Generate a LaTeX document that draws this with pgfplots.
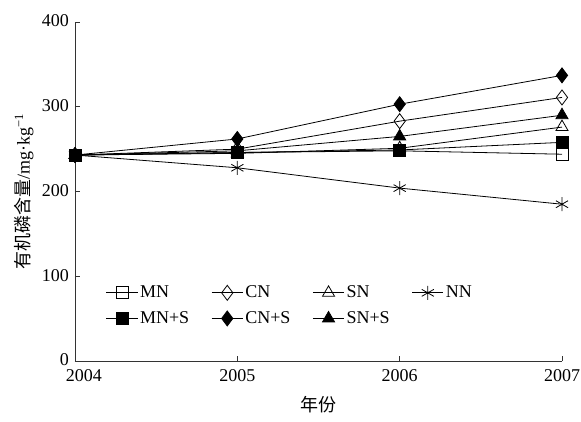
\documentclass[border=0pt]{standalone}
\usepackage{pgfplots}
\pgfplotsset{compat=1.18}
\usepackage{fontspec}
\setmainfont{Liberation Serif}
\newfontfamily\cjk{Noto Sans CJK SC}
\begin{document}
\fontsize{18}{20}\selectfont
\begin{tikzpicture}
\useasboundingbox (-75pt,-60pt) rectangle (506pt,361pt);
\begin{axis}[
  at={(0,0)}, anchor=south west, scale only axis,
  width=487pt, height=339pt,
  xmin=2004, xmax=2007, ymin=0, ymax=400,
  axis x line=bottom, axis y line=left,
  axis line style={-, line width=0.7pt, black!80},
  xtick={2004,2005,2006,2007}, ytick={0,100,200,300,400},
  xticklabels={\hspace*{18pt}2004,2005,2006,2007},
  tick align=inside, major tick length=5pt,
  tick style={line width=0.7pt, black!80},
  x tick label style={yshift=-2pt},
  y tick label style={yshift=1pt},
  /pgf/number format/assume math mode=true,
  tick label style={font=\fontsize{18}{20}\selectfont},
  xlabel={\cjk 年份},
  xlabel style={at={(axis description cs:0.5,-0.13)}, anchor=center, font=\fontsize{18}{20}\selectfont},
  ylabel={{\cjk 有机磷含量}/mg·kg\textsuperscript{−1}},
  ylabel style={at={(axis description cs:-0.105,0.5)}, anchor=center, font=\fontsize{18}{20}\selectfont},
  every axis plot/.append style={black, line width=0.8pt, mark options={solid, line width=0.8pt}},
  legend columns=4, legend cell align=left,
  legend style={draw=none, fill=none, at={(axis description cs:0.057,0.235)}, anchor=north west,
    font=\fontsize{18}{20}\selectfont, row sep=7pt,
    /tikz/every even column/.append style={column sep=20pt}},
  legend image code/.code={\draw[mark repeat=2, mark phase=2] plot coordinates {(0cm,0cm) (0.55cm,0cm) (1.1cm,0cm)};},
  clip=false,
]
\addplot[mark=square, mark size=6pt, mark options={fill=white}] coordinates {(2004,243) (2005,246) (2006,248) (2007,244)};
\addlegendentry{MN}
\addplot[mark=diamond, mark options={fill=white}, mark size=7.5pt] coordinates {(2004,243) (2005,250) (2006,283) (2007,311)};
\addlegendentry{CN}
\addplot[mark=triangle, mark options={fill=white}, mark size=7pt] coordinates {(2004,243) (2005,245) (2006,251) (2007,276)};
\addlegendentry{SN}
\addplot[mark=asterisk, mark size=7pt] coordinates {(2004,243) (2005,228) (2006,204) (2007,185)};
\addlegendentry{NN}
\addplot[mark=square*, mark size=6pt] coordinates {(2004,243) (2005,246) (2006,249) (2007,258)};
\addlegendentry{MN+S}
\addplot[mark=diamond*, mark size=7.5pt] coordinates {(2004,243) (2005,262) (2006,303) (2007,337)};
\addlegendentry{CN+S}
\addplot[mark=triangle*, mark size=7pt] coordinates {(2004,243) (2005,248) (2006,265) (2007,290)};
\addlegendentry{SN+S}
\addplot[mark=square, mark size=6pt, mark options={fill=white}, forget plot] coordinates {(2004,243)};
\end{axis}
\end{tikzpicture}
\end{document}
